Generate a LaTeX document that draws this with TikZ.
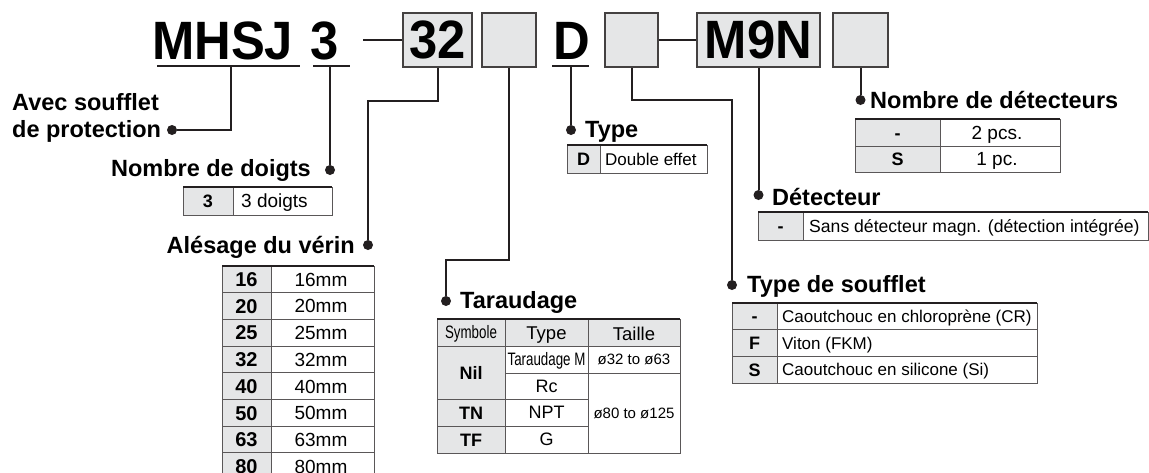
\documentclass[tikz,border=0pt]{standalone}
\usepackage{fontspec}
\setmainfont{Liberation Sans}
\newfontfamily\codefont[FakeStretch=0.94]{Liberation Sans}
\newfontfamily\condfont[FakeStretch=0.74]{Liberation Sans}
\usetikzlibrary{calc}
\definecolor{codegray}{RGB}{229,230,231}
\definecolor{ink}{RGB}{35,31,32}
\tikzset{every picture/.style={x=1pt,y=-1pt}}
\tikzset{
  codebox/.style={draw=ink!85,line width=2pt,fill=codegray,minimum height=54pt,inner sep=0pt,font=\codefont\fontsize{54}{54}\bfseries},
  bigtext/.style={inner sep=0pt,anchor=base west,font=\codefont\fontsize{54}{54}\bfseries},
  heading/.style={inner sep=0pt,font=\fontsize{23.5}{27.5}\bfseries},
  link/.style={draw=ink,line width=2pt},
  dot/.style={circle,fill=ink,inner sep=0pt,minimum size=10pt},
  cell/.style={inner sep=0pt,text height=12.4pt,text depth=0pt,font=\fontsize{17}{20}\selectfont},
  key/.style={inner sep=0pt,text height=13pt,text depth=0pt,font=\fontsize{18}{20}\bfseries},
  bigkey/.style={key,text height=14.3pt,font=\fontsize{20}{22}\bfseries},
  bigcell/.style={cell,text height=13.6pt,font=\fontsize{19}{22}\selectfont},
  rule/.style={draw=ink!75,line width=1pt},
  toprule/.style={draw=ink,line width=2pt}
}

\begin{document}
\begin{tikzpicture}
\clip (0,0) rectangle (1149,472);
\useasboundingbox (0,0) rectangle (1149,472);

% the order code
\node[bigtext] (mhsj) at (152,59) {MHSJ};
\node[bigtext] (fing) at (310,59) {3};
\node[codebox,minimum width=69pt] (box32) at (437.5,40) {32};
\node[codebox,minimum width=54pt] (boxA) at (509,40) {};
\node[bigtext] (dtype) at (553,59) {D};
\node[codebox,minimum width=53pt] (boxB) at (631.5,40) {};
\node[codebox,minimum width=123pt] (boxM) at (758.5,40) {M9N};
\node[codebox,minimum width=55pt] (boxC) at (860.5,40) {};
 \draw[link] (157,66) -- (300,66);
 \draw[link] (313,66) -- (350,66);
 \draw[link] (552,66) -- (589,66);
\coordinate (u1) at (231,66);
\coordinate (u2) at (330,66);
\coordinate (u3) at (571,66);
\coordinate (dash) at (363,40);
 \draw[link] (dash) -- (box32.west);
 \draw[link] (boxB.east) -- (boxM.west);

% headings and their dots
\node[heading,anchor=base west] (avec) at (12,110) {Avec soufflet};
\node[heading,anchor=base west] (prot) at (12,137) {de protection};
\node[dot] (dAvec) at (172,130) {};
\node[heading,anchor=base east] (doigts) at (311,176) {Nombre de doigts};
\node[dot] (dDoigts) at (330,170) {};
\node[heading,anchor=base east] (alesage) at (355,253) {Alésage du vérin};
\node[dot] (dAles) at (368,245) {};
\node[heading,anchor=base west] (tarau) at (460,308) {Taraudage};
\node[dot] (dTar) at (446,301) {};
\node[heading,anchor=base west] (type) at (585,137) {Type};
\node[dot] (dType) at (571,130) {};
\node[heading,anchor=base west] (souf) at (747,292) {Type de soufflet};
\node[dot] (dSouf) at (732,285) {};
\node[heading,anchor=base west] (detect) at (772,205) {Détecteur};
\node[dot] (dDet) at (758.5,195) {};
\node[heading,anchor=base west] (nbdet) at (870,108) {Nombre de détecteurs};
\node[dot] (dNb) at (860.5,100) {};

% connectors
 \draw[link] (u1) |- (dAvec);
 \draw[link] (u2) -- (dDoigts);
 \draw[link] (box32.south) -- ++(0,33) -| (dAles);
 \draw[link] (boxA.south) -- ++(0,192) -| (dTar);
 \draw[link] (u3) -- (dType);
 \draw[link] (boxB.south) -- ++(0,32) -| (dSouf);
 \draw[link] (boxM.south) -- (dDet);
 \draw[link] (boxC.south) -- (dNb);

% Nombre de doigts table
\fill[codegray] (183,187) rectangle (233,215);
 \draw[rule] (183,187) rectangle (332,215);
 \draw[rule] (233,187) -- (233,215);
 \draw[toprule] (183,187) -- (332,187);
\node[key] (k3) at (208,201) {3};
\node[bigcell,anchor=west] (v3) at (241,201) {3 doigts};

% Alesage table
\fill[codegray] (222,266) rectangle (271,480);
 \draw[rule] (222,266) rectangle (374,480);
 \draw[rule] (271,266) -- (271,480);
 \draw[rule] (222,292.7) -- (374,292.7);
 \draw[rule] (222,319.4) -- (374,319.4);
 \draw[rule] (222,346.1) -- (374,346.1);
 \draw[rule] (222,372.8) -- (374,372.8);
 \draw[rule] (222,399.5) -- (374,399.5);
 \draw[rule] (222,426.2) -- (374,426.2);
 \draw[rule] (222,452.9) -- (374,452.9);
 \draw[toprule] (222,266) -- (374,266);
\node[bigkey] (k16) at (246.5,279.4) {16};
\node[bigkey] (k20) at (246.5,306.1) {20};
\node[bigkey] (k25) at (246.5,332.8) {25};
\node[bigkey] (k32) at (246.5,359.5) {32};
\node[bigkey] (k40) at (246.5,386.2) {40};
\node[bigkey] (k50) at (246.5,412.9) {50};
\node[bigkey] (k63) at (246.5,439.6) {63};
\node[bigkey] (k80) at (246.5,466.3) {80};
\node[bigcell] (v16) at (321,279.4) {16mm};
\node[bigcell] (v20) at (321,306.1) {20mm};
\node[bigcell] (v25) at (321,332.8) {25mm};
\node[bigcell] (v32) at (321,359.5) {32mm};
\node[bigcell] (v40) at (321,386.2) {40mm};
\node[bigcell] (v50) at (321,412.9) {50mm};
\node[bigcell] (v63) at (321,439.6) {63mm};
\node[bigcell] (v80) at (321,466.3) {80mm};

% Taraudage table
\fill[codegray] (437,319) rectangle (680,346);
\fill[codegray] (437,346) rectangle (505,453);
 \draw[rule] (437,319) rectangle (680,453);
 \draw[rule] (505,319) -- (505,453);
 \draw[rule] (588,319) -- (588,453);
 \draw[rule] (437,346) -- (680,346);
 \draw[rule] (505,373) -- (680,373);
 \draw[rule] (437,399) -- (588,399);
 \draw[rule] (437,426) -- (588,426);
 \draw[toprule] (437,319) -- (680,319);
\node[cell,font=\condfont\fontsize{18}{20}\selectfont] (hSym) at (471,332.5) {Symbole};
\node[cell,text height=13.2pt,font=\fontsize{18.5}{20}\selectfont] (hType) at (546.5,332.5) {Type};
\node[cell,text height=13.2pt,font=\fontsize{18.5}{20}\selectfont] (hTaille) at (634,333.5) {Taille};
\node[key] (kNil) at (471,372.5) {Nil};
\node[key] (kTN) at (471,412.5) {TN};
\node[key] (kTF) at (471,439.5) {TF};
\node[cell,font=\condfont\fontsize{18}{20}\selectfont] (vM) at (546.5,359.5) {Taraudage M};
\node[cell,text height=12.9pt,font=\fontsize{18}{20}\selectfont] (vRc) at (546.5,386) {Rc};
\node[cell,text height=12.9pt,font=\fontsize{18}{20}\selectfont] (vNPT) at (546.5,412.5) {NPT};
\node[cell,text height=12.9pt,font=\fontsize{18}{20}\selectfont] (vG) at (546.5,439.5) {G};
\node[cell,text height=10.8pt,font=\fontsize{15}{18}\selectfont] (s1) at (634,359.5) {ø32 to ø63};
\node[cell,text height=10.8pt,font=\fontsize{15}{18}\selectfont] (s2) at (634,413) {ø80 to ø125};

% Type table
\fill[codegray] (567,145) rectangle (600,173);
 \draw[rule] (567,145) rectangle (707,173);
 \draw[rule] (600,145) -- (600,173);
 \draw[toprule] (567,145) -- (707,145);
\node[key] (kD) at (583.5,159) {D};
\node[cell,anchor=west] (vD) at (605,159) {Double effet};

% Nombre de detecteurs table
\fill[codegray] (855,119) rectangle (940,172);
 \draw[rule] (855,119) rectangle (1060,172);
 \draw[rule] (940,119) -- (940,172);
 \draw[rule] (855,146) -- (1060,146);
 \draw[toprule] (855,119) -- (1060,119);
\node[key] (kn1) at (897.5,132.5) {-};
\node[key] (kn2) at (897.5,159) {S};
\node[bigcell] (vn1) at (997,132.5) {2 pcs.};
\node[bigcell] (vn2) at (997,159) {1 pc.};

% Detecteur table
\fill[codegray] (758,212) rectangle (803,240);
 \draw[rule] (758,212) rectangle (1148,240);
 \draw[rule] (803,212) -- (803,240);
 \draw[toprule] (758,212) -- (1148,212);
\node[key] (kd) at (780.5,226) {-};
\node[cell,text height=12.7pt,font=\fontsize{17.6}{20}\selectfont,anchor=west] (vd) at (809,226) {Sans détecteur magn. (détection intégrée)};

% Type de soufflet table
\fill[codegray] (732,303) rectangle (777,383);
 \draw[rule] (732,303) rectangle (1037,383);
 \draw[rule] (777,303) -- (777,383);
 \draw[rule] (732,329.7) -- (1037,329.7);
 \draw[rule] (732,356.3) -- (1037,356.3);
 \draw[toprule] (732,303) -- (1037,303);
\node[key] (ks1) at (754.5,316.3) {-};
\node[key] (ks2) at (754.5,343) {F};
\node[key] (ks3) at (754.5,369.7) {S};
\node[cell,anchor=west] (vs1) at (782,316.3) {Caoutchouc en chloroprène (CR)};
\node[cell,anchor=west] (vs2) at (782,343) {Viton (FKM)};
\node[cell,anchor=west] (vs3) at (782,369.7) {Caoutchouc en silicone (Si)};
\end{tikzpicture}
\end{document}
